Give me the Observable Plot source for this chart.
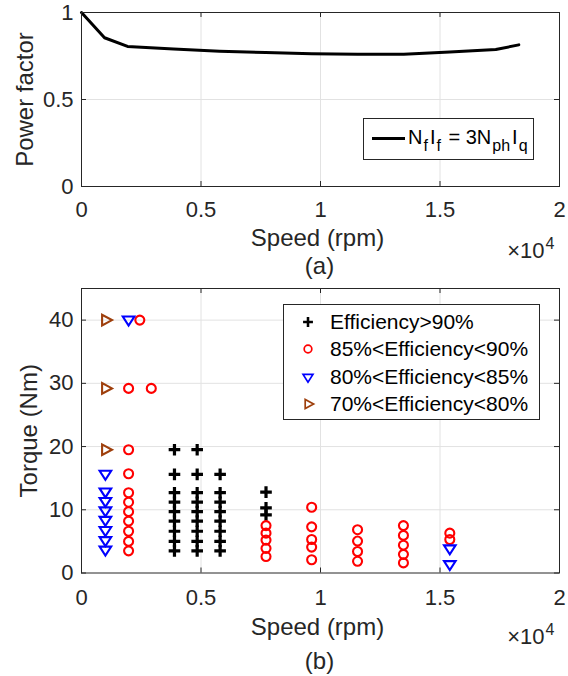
<!DOCTYPE html>
<html>
<head>
<meta charset="utf-8">
<script src="https://cdn.jsdelivr.net/npm/d3@7"></script>
<script src="https://cdn.jsdelivr.net/npm/@observablehq/plot@0.6"></script>
<style>
  body { margin: 0; background: #fff; }
  #wrap { position: relative; width: 568px; height: 676px; overflow: hidden; background: #fff;
          font-family: "Liberation Sans", Arial, Helvetica, sans-serif; }
  #wrap svg { position: absolute; left: 0; }
  .leg { position: absolute; border: 1px solid #262626; background: #fff; box-sizing: border-box; }
  .legtxt { position: absolute; white-space: nowrap; color: #000; }
  .legtxt sub { font-size: 16px; vertical-align: -7px; line-height: 0; margin-left: 1px; margin-right: 2px; }
</style>
</head>
<body>
<div id="wrap"></div>
<script>
// ---------------- DATA ----------------
// (a) power factor vs speed
const pfSpeed = [0, 963, 1926, 3852, 5778, 7704, 9630, 11556, 13482, 15408, 17334, 18297];
const pfValue = [1.0, 0.855, 0.805, 0.790, 0.778, 0.770, 0.763, 0.760, 0.760, 0.773, 0.787, 0.814];

// (b) efficiency map points: column speeds and torques per column
const effA_speeds = [3890, 4840, 5800, 7720];                       // Efficiency > 90%
const effA_torques = [
  [19.5, 15.6, 12.7, 11.2, 9.7, 8.2, 6.6, 5.0, 3.5],
  [19.5, 15.6, 12.7, 11.2, 9.7, 8.2, 6.6, 5.0, 3.5],
  [15.6, 12.7, 11.2, 9.7, 8.2, 6.6, 5.0, 3.5],
  [12.8, 10.3, 9.2]
];
const effB_speeds = [1970, 2440, 2920, 7720, 9630, 11550, 13470, 15410]; // 85% < Eff < 90%
const effB_torques = [
  [29.2, 19.5, 15.7, 12.7, 11.2, 9.7, 8.2, 6.6, 5.0, 3.5],
  [40],
  [29.2],
  [7.5, 6.3, 5.2, 3.9, 2.6],
  [10.4, 7.3, 5.3, 4.1, 2.1],
  [6.85, 5.05, 3.4, 1.85],
  [7.5, 5.95, 4.4, 2.95, 1.6],
  [6.3, 5.3]
];
const effC_speeds = [1000, 1970, 15410];                               // 80% < Eff < 85%
const effC_torques = [
  [15.7, 12.9, 11.4, 9.9, 8.4, 6.8, 5.2, 3.7],
  [40.1],
  [3.9, 1.4]
];
const effD_speeds = [1000];                                            // 70% < Eff < 80%
const effD_torques = [[40, 29.2, 19.5]];

const seriesNames = ["Efficiency>90%", "85%<Efficiency<90%", "80%<Efficiency<85%", "70%<Efficiency<80%"];
const seriesColors = ["#000000", "#ff0000", "#0000ff", "#9e3f0c"];

const xTicks = [0, 5000, 10000, 15000, 20000];
const xGrid = [5000, 10000, 15000];
const yTicksA = [0, 0.5, 1];
const yGridA = [0.5];
const yTicksB = [0, 10, 20, 30, 40];
const yGridB = [10, 20, 30, 40];

// ---------------- HELPERS ----------------
const FONT = '"Liberation Sans", Arial, Helvetica, sans-serif';
const AX = "#262626";
const GRID = "#e2e2e2";

const symPlus = { draw(c) { c.moveTo(-5.8, 0); c.lineTo(5.8, 0); c.moveTo(0, -5.8); c.lineTo(0, 5.8); } };
const symCircle = { draw(c) { c.moveTo(4.5, 0); c.arc(0, 0, 4.5, 0, 2 * Math.PI); } };
const symDown = { draw(c) { c.moveTo(-5.8, -3); c.lineTo(5.8, -3); c.lineTo(0, 6); c.closePath(); } };
const symRight = { draw(c) { c.moveTo(-3.3, -5.3); c.lineTo(-3.3, 5.3); c.lineTo(6.6, 0); c.closePath(); } };
const seriesSymbols = [symPlus, symCircle, symDown, symRight];
const seriesStrokeW = [3.2, 2.1, 2.1, 2.1];

function flatten(speeds, torques) {
  const out = [];
  speeds.forEach((s, i) => torques[i].forEach(t => out.push({ speed: s, torque: t })));
  return out;
}
const effSets = [
  flatten(effA_speeds, effA_torques),
  flatten(effB_speeds, effB_torques),
  flatten(effC_speeds, effC_torques),
  flatten(effD_speeds, effD_torques)
];
const pfData = pfSpeed.map((s, i) => ({ speed: s, pf: pfValue[i] }));

function boxTicks(xt, yt, plotW, plotH, L = 5) {
  return [
    Plot.ruleX(xt, { stroke: AX, insetTop: plotH - L }),
    Plot.ruleX(xt, { stroke: AX, insetBottom: plotH - L }),
    Plot.ruleY(yt, { stroke: AX, insetRight: plotW - L }),
    Plot.ruleY(yt, { stroke: AX, insetLeft: plotW - L })
  ];
}

function commonTexts(ylabel, ylabelDx, caption, labelDy, capDy) {
  return [
    Plot.text(["Speed (rpm)"], { text: d => d, frameAnchor: "bottom", textAnchor: "middle", dx: -3, dy: labelDy, fontSize: 24, fill: AX }),
    Plot.text([ylabel], { text: d => d, frameAnchor: "left", textAnchor: "middle", rotate: -90, dx: ylabelDx, fontSize: 24, fill: AX }),
    Plot.text(["\u00d710"], { text: d => d, frameAnchor: "bottom-right", textAnchor: "end", dx: -15, dy: 71, fontSize: 22, fill: AX }),
    Plot.text(["4"], { text: d => d, frameAnchor: "bottom-right", textAnchor: "end", dx: -5, dy: 62, fontSize: 16, fill: AX }),
    Plot.text([caption], { text: d => d, frameAnchor: "bottom", textAnchor: "middle", dx: -1, dy: capDy, fontSize: 24, fill: AX })
  ];
}

const ML = 81, MR = 9;
const plotW = 568 - ML - MR;
const wrap = document.getElementById("wrap");
const fmt = d => String(d);

// ---------------- (a) ----------------
const topH = 290, topMT = 12, topMB = topH - 186;
const chartA = Plot.plot({
  width: 568, height: topH,
  marginLeft: ML, marginRight: MR, marginTop: topMT, marginBottom: topMB,
  style: { fontFamily: FONT, fontSize: "22px", color: AX, background: "transparent", overflow: "visible" },
  x: { domain: [0, 20000] },
  y: { domain: [0, 1] },
  marks: [
    Plot.ruleX(xGrid, { stroke: GRID }),
    Plot.ruleY(yGridA, { stroke: GRID }),
    Plot.line(pfData, { x: "speed", y: "pf", stroke: "#000", strokeWidth: 3, strokeLinejoin: "round" }),
    Plot.frame({ stroke: AX }),
    ...boxTicks(xTicks, yTicksA, plotW, 186 - topMT),
    Plot.axisX(xTicks, { tickSize: 0, tickPadding: 15, tickFormat: d => fmt(d / 1e4), label: null, fill: AX }),
    Plot.axisY(yTicksA, { tickSize: 0, tickPadding: 8, tickFormat: fmt, label: null, fill: AX }),
    ...commonTexts("Power factor", -56, "(a)", 59, 87)
  ]
});
chartA.style.top = "0px";
wrap.appendChild(chartA);

// ---------------- (b) ----------------
const botTop = 276, botH = 400, botMT = 12, botMB = botH - (572.5 - botTop);
const chartB = Plot.plot({
  width: 568, height: botH,
  marginLeft: ML, marginRight: MR, marginTop: botMT, marginBottom: botMB,
  style: { fontFamily: FONT, fontSize: "22px", color: AX, background: "transparent", overflow: "visible" },
  x: { domain: [0, 20000] },
  y: { domain: [0, 45] },
  marks: [
    Plot.ruleX(xGrid, { stroke: GRID }),
    Plot.ruleY(yGridB, { stroke: GRID }),
    ...effSets.map((data, i) => Plot.dot(data, {
      x: "speed", y: "torque", symbol: seriesSymbols[i], r: 5,
      fill: "none", stroke: seriesColors[i], strokeWidth: seriesStrokeW[i]
    })),
    Plot.frame({ stroke: AX }),
    ...boxTicks(xTicks, yTicksB, plotW, 572.5 - botTop - botMT),
    Plot.axisX(xTicks, { tickSize: 0, tickPadding: 16, tickFormat: d => fmt(d / 1e4), label: null, fill: AX }),
    Plot.axisY(yTicksB, { tickSize: 0, tickPadding: 8, tickFormat: fmt, label: null, fill: AX }),
    ...commonTexts("Torque (Nm)", -52, "(b)", 62, 96)
  ]
});
chartB.style.top = botTop + "px";
wrap.appendChild(chartB);

// ---------------- legends ----------------
function box(left, top, w, h) {
  const d = document.createElement("div");
  d.className = "leg";
  Object.assign(d.style, { left: left + "px", top: top + "px", width: w + "px", height: h + "px" });
  wrap.appendChild(d);
}
function svgAt(left, top, w, h, inner) {
  const s = document.createElementNS("http://www.w3.org/2000/svg", "svg");
  s.setAttribute("width", w); s.setAttribute("height", h);
  s.style.position = "absolute"; s.style.left = left + "px"; s.style.top = top + "px"; s.style.overflow = "visible";
  s.innerHTML = inner;
  wrap.appendChild(s);
}
function txt(left, baseline, size, content, isHtml) {
  const d = document.createElement("div");
  d.className = "legtxt";
  Object.assign(d.style, { left: left + "px", top: (baseline - size * 0.8465) + "px", fontSize: size + "px", lineHeight: size + "px" });
  if (isHtml) d.innerHTML = content; else d.textContent = content;
  wrap.appendChild(d);
}

// top legend
box(363, 118, 171, 42);
svgAt(372, 138, 34, 2, `<line x1="0" y1="0.5" x2="33" y2="0.5" stroke="#000" stroke-width="3"/>`);
txt(408, 143.5, 20, "N<sub>f</sub>I<sub>f</sub> = 3N<sub>ph</sub>I<sub>q</sub>", true);

// bottom legend
box(283, 304, 257, 116);
const rowCenters = [322.3, 349, 376.5, 404];
const legStroke = [3, 2, 2, 2];
seriesNames.forEach((name, i) => {
  const path = d3.symbol().type(seriesSymbols[i])();
  svgAt(308, rowCenters[i], 1, 1,
    `<g transform="scale(0.85)"><path d="${path}" fill="none" stroke="${seriesColors[i]}" stroke-width="${legStroke[i]}"/></g>`);
  txt(330, rowCenters[i] + 6.8, 21, name, false);
});
</script>
</body>
</html>
